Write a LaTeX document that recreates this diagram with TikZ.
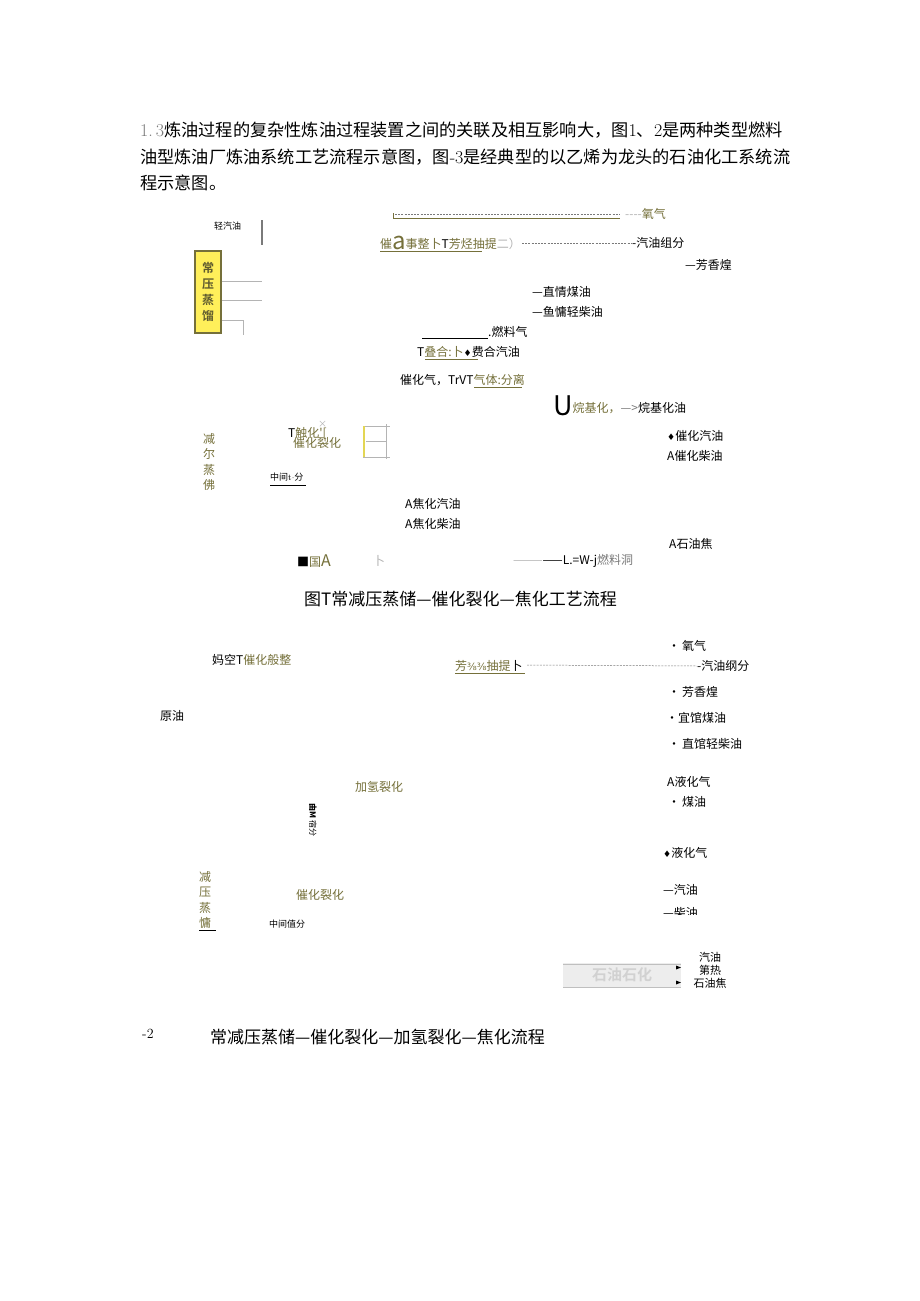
\documentclass[tikz,border=0pt]{standalone}
\usepackage{fontspec}
\newfontfamily\cjk{Noto Sans CJK SC}
\newfontfamily\cjkb{Noto Sans CJK SC Bold}
\newfontfamily\dejavu{DejaVu Sans}
\definecolor{olv}{HTML}{75703A}
\definecolor{lgr}{HTML}{B4B4B4}
\definecolor{mgr}{HTML}{7A7A7A}
\definecolor{ylw}{HTML}{FFEF5A}
\tikzset{
  lbl/.style={anchor=west, inner sep=0pt, font=\cjk\fontsize{12}{14}\selectfont},
  small/.style={anchor=west, inner sep=0pt, font=\cjk\fontsize{9}{11}\selectfont},
  head/.style={anchor=west, inner sep=0pt, font=\cjk\fontsize{17.2}{20}\selectfont},
  captxt/.style={anchor=west, inner sep=0pt, font=\cjk\fontsize{17}{19}\selectfont},
  vert/.style={inner sep=0pt, align=center, font=\cjk\fontsize{12}{15.5}\selectfont, text=olv},
  gline/.style={draw=lgr, line width=0.6pt},
  dline/.style={draw=mgr, dash pattern=on 2pt off 1.2pt, line width=0.5pt},
}
\newcommand{\dia}{{\dejavu\fontsize{9}{9}\selectfont ♦}}
\begin{document}
\begin{tikzpicture}[x=1pt,y=-1pt]
\useasboundingbox[fill=white] (0,0) rectangle (920,1301);

% ---------- paragraph ----------
\node[head] (p1) at (140,130) {\textcolor{mgr}{\rmfamily\fontsize{18}{20}\selectfont 1.\,3}炼油过程的复杂性炼油过程装置之间的关联及相互影响大，图{\rmfamily\fontsize{18}{20}\selectfont 1}、{\rmfamily\fontsize{18}{20}\selectfont 2}是两种类型燃料};
\node[head] (p2) at (140,157) {油型炼油厂炼油系统工艺流程示意图，图{\rmfamily\fontsize{18}{20}\selectfont -3}是经典型的以乙烯为龙头的石油化工系统流};
\node[head] (p3) at (140,183) {程示意图。};

% ---------- figure 1 ----------
\node[small] (qqy) at (214,226) {轻汽油};
\draw[draw=mgr, line width=2pt] (262,220) -- (262,245);
\node[draw=olv, line width=1.2pt, fill=ylw, minimum width=26pt, minimum height=82pt, inner sep=0pt,
      align=center, font=\cjkb\fontsize{12}{16}\selectfont, text=olv!80!black] (cy) at (208,292) {常\\压\\蒸\\馏};
\coordinate (cyA) at (262,281);
\coordinate (cyB) at (262,300);
\draw[gline] (cy.east |- cyA) -- (cyA);
\draw[gline] (cy.east |- cyB) -- (cyB);
\draw[gline] (cy.east |- 0,320) -- (243,320) -- (243,335);

% top dashed line to 氧气
\coordinate (t0) at (393,213);
\coordinate (t1) at (620,218);
\draw[draw=olv, line width=0.5pt] (t0) -- (393,218) -- (t1);
\draw[dline] (395,214) -- (t1 |- 0,214);
\node[lbl, text=olv] (yq1) at (625,214) {\textcolor{lgr}{----}氧气};

\node[lbl] (cz) at (380,243) {\textcolor{olv}{催\raisebox{-1pt}{\fontsize{24}{24}\selectfont a}事整卜}T\textcolor{olv}{芳烃抽提}\textcolor{lgr}{二）}};
\draw[draw=olv, line width=0.6pt] (380,251) -- (482,251);
\node[lbl] (qyzf) at (632,243) {-汽油组分};
\draw[dline] (522,243) -- (qyzf.west);
\node[lbl] (fxh) at (685,265) {—芳香煌};
\node[lbl] (zqmy) at (532,292) {—直情煤油};
\node[lbl] (yqcy) at (532,312) {—鱼慵轻柴油};
\node[lbl] (rlq) at (488,332) {.燃料气};
\draw[draw=black, line width=0.5pt] (422,338) -- (rlq.west |- 0,338);
\node[lbl] (dh) at (417,352) {T\textcolor{olv}{叠合:卜}\dia 费合汽油};
\draw[draw=olv, line width=0.5pt] (425,359) -- (478,359);
\node[lbl] (chq) at (400,380) {催化气，TrVT\textcolor{olv}{气体:分离}};
\draw[draw=olv, line width=0.5pt] (474,387) -- (522,387);
\node[lbl] (wj) at (553,406) {\raisebox{-3pt}{\fontsize{27}{27}\selectfont U}\textcolor{olv}{烷基化，}\textcolor{mgr}{—>}烷基化油};

\node[small, text=lgr] (xx) at (318,424) {×};
\node[lbl] (chlh1) at (288,433) {T\textcolor{olv}{触化'[}};
\node[lbl, text=olv] (chlh2) at (293,443) {催化裂化};
% small frame box
\draw[draw=lgr, line width=0.8pt] (363,426) -- (390,426) (363,457) -- (390,457) (386,424) -- (386,459) (366,441) -- (386,441);
\draw[draw=ylw!80!olv, line width=1.5pt] (364,426) -- (364,457);

\node[vert] (jy1) at (209,462) {减\\尔\\蒸\\佛};
\node[small] (zjf1) at (270,477) {中间{\rmfamily t$\cdot$}分};
\draw[line width=0.6pt] (270,485) -- (306,485);

\node[lbl] (chqy) at (667,436) {\dia 催化汽油};
\node[lbl] (chcy) at (667,456) {A催化柴油};
\node[lbl] (jhqy) at (405,504) {A焦化汽油};
\node[lbl] (jhcy) at (405,524) {A焦化柴油};
\node[lbl] (syj) at (669,544) {A石油焦};
\node[lbl] (gA) at (297,561) {■\textcolor{olv}{国{\fontsize{16}{16}\selectfont A}}};
\node[lbl, text=lgr] (bu) at (373,561) {卜};
\node[lbl] (rlr) at (513,561) {\textcolor{lgr}{———}——L.=W-j\textcolor{mgr}{燃料洞}};

\node[captxt] (cap1) at (304,599) {图T常减压蒸储—催化裂化—焦化工艺流程};

% ---------- figure 2 ----------
\node[lbl] (yq2) at (668,646) {·\,氧气};
\node[lbl] (mk) at (212,660) {妈空T\textcolor{olv}{催化般整}};
\node[lbl] (fx2) at (455,666) {\textcolor{olv}{芳{\dejavu\fontsize{10}{12}\selectfont ⅜⅜}抽提}卜};
\draw[draw=olv, line width=0.5pt] (455,673) -- (525,673);
\node[lbl] (qyf2) at (697,666) {-汽油纲分};
\draw[dline] (527,665) -- (qyf2.west);
\node[lbl] (fxh2) at (668,692) {·\,芳香煌};
\node[lbl] (yy) at (160,716) {原油};
\node[lbl] (zmy2) at (666,718) {•宜馆煤油};
\node[lbl] (zcy2) at (668,744) {·\,直馆轻柴油};
\node[lbl, text=olv] (jqlh) at (355,787) {加氢裂化};
\node[lbl] (yhq2) at (667,782) {A液化气};
\node[lbl] (my2) at (668,802) {·\,煤油};
\node[inner sep=0pt, rotate=-90, font=\cjk\fontsize{8}{9}\selectfont] (mm) at (313,820) {\textbf{由M}\,宿分};
\node[lbl] (yhq3) at (663,853) {\dia 液化气};
\node[vert] (jy2) at (205,900) {减\\压\\蒸\\慵};
\draw[line width=0.6pt] (199,930) -- (216,930);
\node[lbl, text=olv] (chlh3) at (296,895) {催化裂化};
\node[small] (zjf2) at (269,924) {中间值分};
\node[lbl] (qy3) at (663,890) {—汽油};
\begin{scope}
\clip (650,904) rectangle (720,914);
\node[lbl] (cy3) at (663,913) {—柴油};
\end{scope}

% blurred grey box
\node[inner sep=0pt, minimum width=118pt, minimum height=24pt, fill=black!7, text=black!18,
      font=\cjkb\fontsize{15}{15}\selectfont] (shbox) at (622,975) {石油石化};
\draw[black!25, line width=0.5pt] (563,964) -- (681,964) (563,987) -- (681,987);
\node[inner sep=0pt, align=center, font=\cjk\fontsize{11}{13}\selectfont] (outs) at (710,970) {汽油\\第热\\石油焦};
\fill (681,967.5) -- (676,965.5) -- (676,969.5) -- cycle;
\fill (681,982.5) -- (676,980.5) -- (676,984.5) -- cycle;

\node[anchor=west, inner sep=0pt, font=\rmfamily\fontsize{14}{16}\selectfont] (m2) at (142,1034) {-2};
\node[captxt] (cap2) at (210,1037) {常减压蒸储—催化裂化—加氢裂化—焦化流程};
\end{tikzpicture}
\end{document}
